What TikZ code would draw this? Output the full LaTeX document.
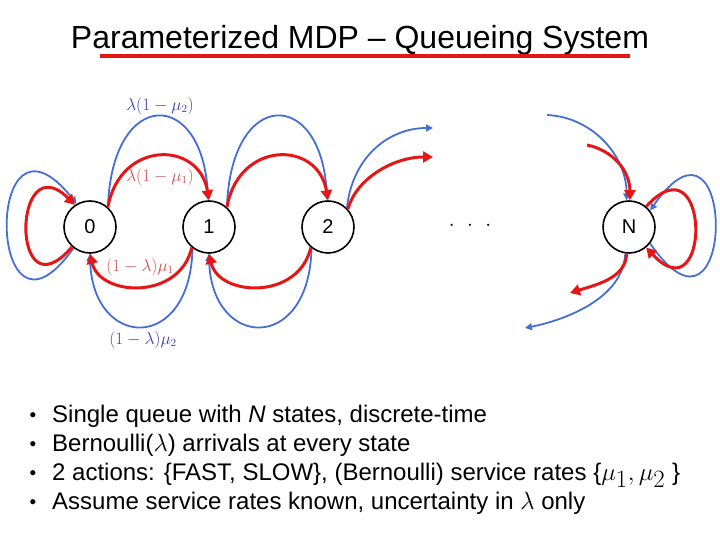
\documentclass[tikz,border=0pt]{standalone}
\usepackage[no-math]{fontspec}
\setmainfont{Liberation Sans}
\usetikzlibrary{arrows.meta}
\definecolor{rd}{RGB}{228,22,22}
\definecolor{bl}{RGB}{70,110,215}
\definecolor{lbl}{RGB}{60,60,170}
\definecolor{lrd}{RGB}{205,80,80}
\begin{document}
\begin{tikzpicture}[x=1pt,y=-1pt,
  st/.style={circle,draw,line width=1.6pt,minimum size=52pt,inner sep=0pt,font=\fontsize{20}{24}\selectfont},
  R/.style={draw=rd,line width=3pt,-{Triangle[length=10pt,width=11pt]}},
  B/.style={draw=bl,line width=1.8pt,-{Triangle[length=7pt,width=7pt]}},
  lab/.style={font=\fontsize{16}{18}\selectfont},
  txt/.style={anchor=base west,inner sep=0pt,font=\fontsize{24}{28}\selectfont},
  bul/.style={anchor=base,font=\fontsize{19}{23}\selectfont}]
\useasboundingbox (0,0) rectangle (720,540);
% title
\node[anchor=base,font=\fontsize{32}{38}\selectfont] (title) at (360,49) {Parameterized MDP – Queueing System};
\coordinate (ul1) at (100,56);
\coordinate (ul2) at (630,56);
\draw[rd,line width=4pt] (ul1) -- (ul2);
% states
\node[st] (s0) at (90,227) {0};
\node[st] (s1) at (209,227) {1};
\node[st] (s2) at (328,227) {2};
\node[st] (sN) at (629,227) {N};
\node (dots) at (470,226) {\fontsize{20}{24}\selectfont$\cdot\hspace{8pt}\cdot\hspace{8pt}\cdot$};
% free ends
\coordinate (b2e) at (433,128);
\coordinate (r2e) at (433,157);
\coordinate (bNs) at (547,115);
\coordinate (rNs) at (587,145);
\coordinate (rNe) at (570,293);
\coordinate (bNe) at (525,328);
% blue connectors
\draw[B] (s0.232) .. controls +(-87,123) and +(-94,-119) .. (s0.120);
\draw[B] (s0.48) .. controls +(4,-120) and +(-5,-113) .. (s1.92);
\draw[B] (s1.48) .. controls +(4,-120) and +(-5,-113) .. (s2.92);
\draw[B] (s1.232) .. controls +(-2,106) and +(2,96) .. (s0.270);
\draw[B] (s2.232) .. controls +(-2,106) and +(2,96) .. (s1.270);
\draw[B] (s2.45) .. controls +(5,-50) and +(-45,0) .. (b2e);
\draw[B] (bNs) .. controls +(45,2) and +(0,-45) .. (sN.95);
\draw[B] (sN.262) .. controls +(-2,45) and +(40,-8) .. (bNe);
\draw[B] (sN.-38) .. controls +(87,126) and +(87,-125) .. (sN.38);
% red connectors
\draw[R] (s0.228) .. controls +(-62,72) and +(-63,-62) .. (s0.124);
\draw[R] (s0.48) .. controls +(12,-67) and +(-10,-60) .. (s1.90);
\draw[R] (s1.48) .. controls +(12,-67) and +(-10,-60) .. (s2.90);
\draw[R] (s1.230) .. controls +(-12,53) and +(10,43) .. (s0.270);
\draw[R] (s2.230) .. controls +(-12,53) and +(10,43) .. (s1.270);
\draw[R] (s2.42) .. controls +(8,-30) and +(-40,0) .. (r2e);
\draw[R] (rNs) .. controls +(25,5) and +(0,-30) .. (sN.88);
\draw[R] (sN.265) .. controls +(-1,25) and +(25,-8) .. (rNe);
\draw[R] (sN.50) .. controls +(65,-71) and +(65,70) .. (sN.-50);
% labels
\node[lab,text=lbl] (l1) at (160,106) {$\lambda(1-\mu_2)$};
\node[lab,text=lrd] (l2) at (160,177) {$\lambda(1-\mu_1)$};
\node[lab,text=lrd] (l3) at (140,267) {$(1-\lambda)\mu_1$};
\node[lab,text=lbl] (l4) at (143,340) {$(1-\lambda)\mu_2$};
% bullets
\node[bul] (d1) at (33,421) {•};
\node[bul] (d2) at (33,450) {•};
\node[bul] (d3) at (33,479) {•};
\node[bul] (d4) at (33,508) {•};
\node[txt] (t1) at (52,422) {Single queue with \textit{N} states, discrete-time};
\node[txt] (t2) at (52,451) {Bernoulli({\fontsize{30}{34}\selectfont$\lambda$}) arrivals at every state};
\node[txt] (t3) at (52,480) {2 actions: \{FAST, SLOW\}, (Bernoulli) service rates \{{\fontsize{34}{38}\selectfont$\mu_1,\mu_2$} \}};
\node[txt] (t4) at (52,509) {Assume service rates known, uncertainty in {\fontsize{30}{34}\selectfont$\lambda$} only};
\end{tikzpicture}
\end{document}
